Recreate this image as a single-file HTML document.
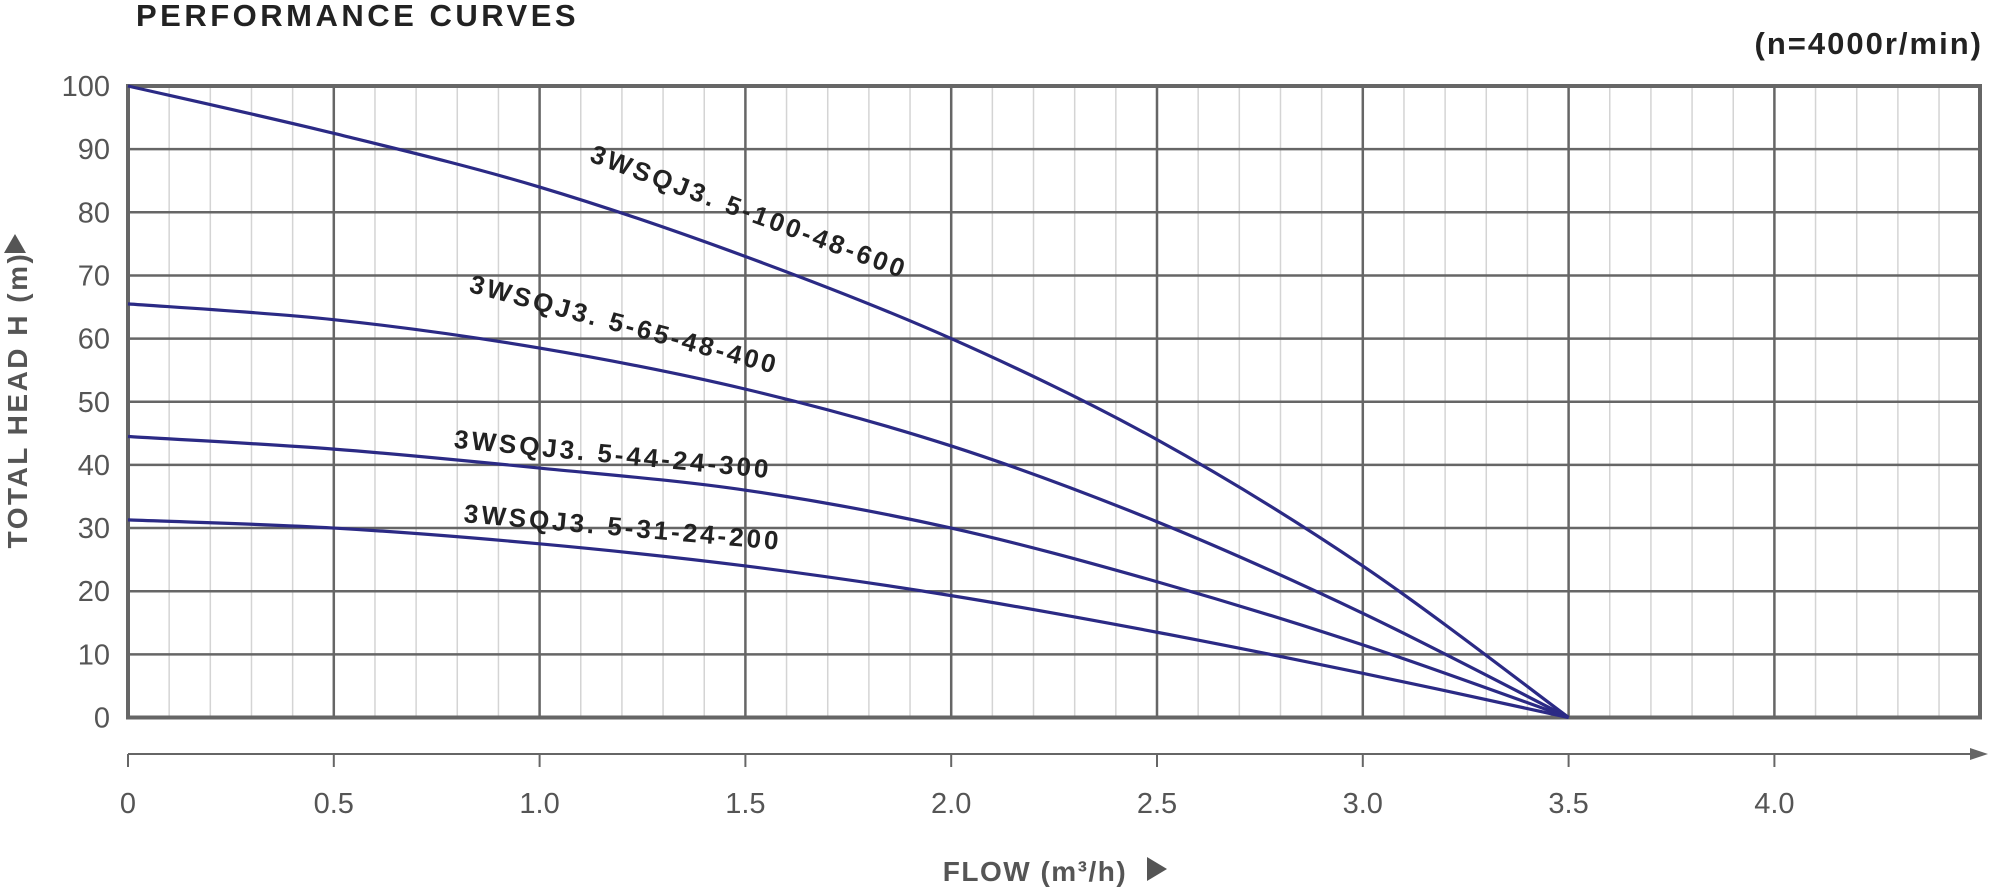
<!DOCTYPE html>
<html><head><meta charset="utf-8"><style>
html,body{margin:0;padding:0;background:#fff;}
svg{display:block;font-family:"Liberation Sans",sans-serif;}
</style></head><body>
<svg id="chart" width="1991" height="887" viewBox="0 0 1991 887">
<text x="136" y="26" font-size="31" font-weight="bold" fill="#222" letter-spacing="3.5">PERFORMANCE  CURVES</text>
<text x="1983" y="54" text-anchor="end" font-size="31" font-weight="bold" fill="#222" letter-spacing="2">(n=4000r/min)</text>
<g id="grid"></g><g id="curves"></g><g id="labels"></g>
<text transform="translate(27,400) rotate(-90)" text-anchor="middle" font-size="28" font-weight="bold" fill="#555" letter-spacing="2.5">TOTAL HEAD H (m)</text>
<polygon points="4,253 26,253 15,234" fill="#555"/>
<text x="1035" y="881" text-anchor="middle" font-size="28" font-weight="bold" fill="#555" letter-spacing="1.5">FLOW (m³/h)</text>
<polygon points="1147,857 1147,881 1167,869" fill="#555"/>
</svg>
<script>
const xTicks=[0,0.5,1.0,1.5,2.0,2.5,3.0,3.5,4.0];
const xTickLabels=["0","0.5","1.0","1.5","2.0","2.5","3.0","3.5","4.0"];
const yTicks=[0,10,20,30,40,50,60,70,80,90,100];
const flow=[0,0.5,1.0,1.5,2.0,2.5,3.0,3.5];
const head600=[100,92.5,84,73,60,44,24,0];
const head400=[65.5,63,58.5,52,43,31,16.5,0];
const head300=[44.5,42.5,39.5,36,30,21.5,11.5,0];
const head200=[31.3,30,27.5,24,19.3,13.5,7,0];
const seriesNames=["3WSQJ3. 5-100-48-600","3WSQJ3. 5-65-48-400","3WSQJ3. 5-44-24-300","3WSQJ3. 5-31-24-200"];
const NS="http://www.w3.org/2000/svg";
const X0=128,XS=411.6,Y0=717.5,YS=6.315,XR=1980;
const sx=v=>X0+v*XS, sy=v=>Y0-v*YS;
function mk(t,a,p){const e=document.createElementNS(NS,t);for(const k in a)e.setAttribute(k,a[k]);p.appendChild(e);return e;}
const g=document.getElementById('grid');
for(let i=1;i<45;i++){if(i%5===0)continue;const x=sx(i/10);
const l=mk('line',{x1:x,x2:x,y1:sy(100),y2:Y0,stroke:'#d4d4d4','stroke-width':1.5},g);

}
yTicks.forEach(v=>{const l=mk('line',{x1:X0,x2:XR,y1:sy(v),y2:sy(v),stroke:'#666','stroke-width':2.5},g);


const t=mk('text',{x:110,y:sy(v)+10,'text-anchor':'end','font-size':29,fill:'#555'},g);t.textContent=v;

});
xTicks.forEach((v,i)=>{const x=sx(v);
const l=mk('line',{x1:x,x2:x,y1:sy(100),y2:Y0,stroke:'#666','stroke-width':2.5},g);


const tk=mk('line',{x1:x,x2:x,y1:754,y2:767,stroke:'#666','stroke-width':2},g);


const t=mk('text',{x:x,y:813,'text-anchor':'middle','font-size':29,fill:'#555'},g);t.textContent=xTickLabels[i];

});
const fr=mk('rect',{x:X0,y:sy(100),width:XR-X0,height:Y0-sy(100),fill:'none',stroke:'#666','stroke-width':4},g);


const ax=mk('line',{x1:X0,x2:1975,y1:754,y2:754,stroke:'#666','stroke-width':2},g);


const ah=mk('polygon',{points:'1970,748 1988,754 1970,760',fill:'#666'},g);


function smooth(xs,ys){const p=xs.map((x,i)=>[sx(x),sy(ys[i])]);let d=`M${p[0][0]},${p[0][1]}`;
for(let i=0;i<p.length-1;i++){const a=p[i-1]||p[i],b=p[i],c=p[i+1],e=p[i+2]||c;
d+=` C${b[0]+(c[0]-a[0])/6},${b[1]+(c[1]-a[1])/6} ${c[0]-(e[0]-b[0])/6},${c[1]-(e[1]-b[1])/6} ${c[0]},${c[1]}`;}return d;}
const cg=document.getElementById('curves');
const names=['curve-100-48-600','curve-65-48-400','curve-44-24-300','curve-31-24-200'];
[head600,head400,head300,head200].forEach((h,i)=>{const p=mk('path',{d:smooth(flow,h),fill:'none',stroke:'#2b2a85','stroke-width':3.2},cg);

});
const lg=document.getElementById('labels');
const lp=[[746,220,20.5],[622,333,15],[612,463,5.5],[622,536,5]];
seriesNames.forEach((s,i)=>{const t=mk('text',{transform:`translate(${lp[i][0]},${lp[i][1]}) rotate(${lp[i][2]})`,'text-anchor':'middle','font-size':26,'font-weight':'bold',fill:'#222','letter-spacing':3},lg);
t.textContent=s;

});
</script>
</body></html>
